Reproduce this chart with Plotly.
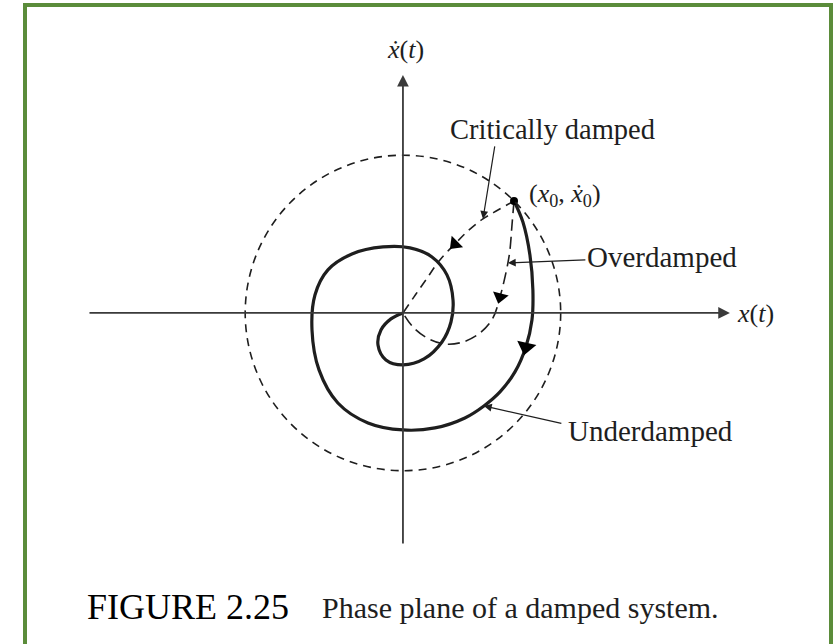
import math
import plotly.graph_objects as go

# Phase plane of a damped oscillator: state trajectories in (x, x_dot),
# expressed in units of the initial-energy radius.

# Initial condition (x0, x_dot0)
x0 = 0.712
v0 = 0.718

# Underdamped trajectory: spirals in clockwise around the origin
under_x = [0.712, 0.769, 0.814, 0.833, 0.827, 0.788, 0.718, 0.622, 0.519, 0.397,
           0.205, 0.000, -0.224, -0.417, -0.538, -0.583, -0.564, -0.481, -0.327,
           -0.128, 0.045, 0.186, 0.282, 0.321, 0.308, 0.250, 0.135, 0.000,
           -0.109, -0.160, -0.141, -0.077, 0.000]
under_v = [0.718, 0.583, 0.372, 0.147, -0.045, -0.218, -0.378, -0.506, -0.596, -0.673,
           -0.737, -0.750, -0.705, -0.577, -0.365, -0.109, 0.115, 0.276, 0.378,
           0.423, 0.417, 0.359, 0.244, 0.083, -0.058, -0.186, -0.295, -0.333,
           -0.301, -0.205, -0.109, -0.038, 0.000]

# Critically damped trajectory: heads almost straight to the origin
crit_x = [0.712, 0.609, 0.513, 0.417, 0.333, 0.237, 0.147, 0.071, 0.000]
crit_v = [0.718, 0.660, 0.603, 0.526, 0.442, 0.340, 0.212, 0.103, 0.000]

# Overdamped trajectory: drops down, then creeps back to the origin
over_x = [0.712, 0.699, 0.686, 0.673, 0.647, 0.622, 0.577, 0.494, 0.385, 0.269,
          0.154, 0.064, 0.000]
over_v = [0.718, 0.564, 0.404, 0.321, 0.199, 0.103, -0.032, -0.128, -0.186, -0.199,
          -0.160, -0.090, 0.000]

# Which point of each trajectory carries a direction arrow / label pointer
under_arrow_i, under_label_i = 5, 8
crit_arrow_i, crit_label_i = 4, 2
over_arrow_i, over_label_i = 5, 3

INK = "#1e1e1e"
AXIS = "#3a3a3a"
SERIF = "Liberation Serif, Times New Roman, serif"

fig = go.Figure()

# Constant-energy reference circle through the initial condition
r0 = (x0 ** 2 + v0 ** 2) ** 0.5
fig.add_shape(type="circle", xref="x", yref="y", x0=-r0, y0=-r0, x1=r0, y1=r0,
              line=dict(color=INK, width=1.6, dash="8px,6px"))

fig.add_trace(go.Scatter(x=crit_x, y=crit_v, mode="lines",
                         line=dict(color=INK, width=1.6, dash="9px,6px", shape="spline"),
                         hoverinfo="skip"))
fig.add_trace(go.Scatter(x=over_x, y=over_v, mode="lines",
                         line=dict(color=INK, width=1.6, dash="12px,6px", shape="spline"),
                         hoverinfo="skip"))
fig.add_trace(go.Scatter(x=under_x, y=under_v, mode="lines",
                         line=dict(color=INK, width=3.2, shape="spline"),
                         hoverinfo="skip"))
fig.add_trace(go.Scatter(x=[x0], y=[v0], mode="markers",
                         marker=dict(color="#000", size=8), hoverinfo="skip"))


def heading(xs, ys, i):
    # marker rotation (deg, clockwise from up) following the path into point i
    dx = xs[i] - xs[i - 1]
    dy = ys[i] - ys[i - 1]
    return math.degrees(math.atan2(dx, dy))


# Direction-of-motion arrowheads on each trajectory
arrow_pts = [(under_x, under_v, under_arrow_i, 17),
             (crit_x, crit_v, crit_arrow_i, 14),
             (over_x, over_v, over_arrow_i, 14)]
fig.add_trace(go.Scatter(
    x=[xs[i] for xs, ys, i, s in arrow_pts],
    y=[ys[i] for xs, ys, i, s in arrow_pts],
    mode="markers",
    marker=dict(symbol="triangle-up", color="#000", opacity=1,
                size=[s for xs, ys, i, s in arrow_pts],
                angle=[heading(xs, ys, i) for xs, ys, i, s in arrow_pts],
                line=dict(width=0)),
    hoverinfo="skip"))

annotations = []

# Phase-plane axes with arrowheads
annotations.append(dict(x=2.096, y=0, ax=-2.019, ay=0, xref="x", yref="y",
                        axref="x", ayref="y", text="", showarrow=True,
                        arrowhead=2, arrowsize=1.3, arrowwidth=1.8,
                        arrowcolor=AXIS, standoff=0, startstandoff=0))
annotations.append(dict(x=0, y=1.526, ax=0, ay=-1.487, xref="x", yref="y",
                        axref="x", ayref="y", text="", showarrow=True,
                        arrowhead=2, arrowsize=1.3, arrowwidth=1.8,
                        arrowcolor=AXIS, standoff=0, startstandoff=0))


def pointer(tail_x, tail_y, xs, ys, i):
    return dict(x=xs[i], y=ys[i], ax=tail_x, ay=tail_y, xref="x", yref="y",
                axref="x", ayref="y", text="", showarrow=True,
                arrowhead=2, arrowsize=1.3, arrowwidth=1.2,
                arrowcolor=INK, standoff=0, startstandoff=0)


annotations.append(pointer(0.590, 1.077, crit_x, crit_v, crit_label_i))
annotations.append(pointer(1.179, 0.340, over_x, over_v, over_label_i))
annotations.append(pointer(1.025, -0.710, under_x, under_v, under_label_i))


def label(x, y, text, size=28, xanchor="left", color=INK):
    return dict(x=x, y=y, xref="x", yref="y", text=text, showarrow=False,
                xanchor=xanchor, yanchor="middle",
                font=dict(family=SERIF, size=size, color=color))


annotations += [
    label(0.019, 1.690, "<i>ẋ</i>(<i>t</i>)", size=26, xanchor="center"),
    label(2.128, -0.006, "<i>x</i>(<i>t</i>)", size=26),
    label(0.288, 1.179, "Critically damped", size=28.5),
    label(0.795, 0.756, "(<i>x</i><sub>0</sub>, <i>ẋ</i><sub>0</sub>)", size=26),
    label(1.170, 0.359, "Overdamped", size=29),
    label(1.045, -0.756, "Underdamped", size=29),
    label(-2.038, -1.885, "FIGURE 2.25", size=36, color="#000"),
    label(-0.532, -1.885, "Phase plane of a damped system.", size=30),
]

# Green frame around the figure
fig.add_shape(type="rect", xref="paper", yref="paper",
              x0=25 / 836, x1=831 / 836, y0=-0.02, y1=1 - 5 / 644,
              line=dict(color="#5b8c3a", width=4))

fig.update_layout(
    width=836, height=644,
    margin=dict(l=0, r=0, t=0, b=0),
    paper_bgcolor="white", plot_bgcolor="white",
    showlegend=False,
    annotations=annotations,
    xaxis=dict(range=[-2.583, 2.776], visible=False, fixedrange=True),
    yaxis=dict(range=[-2.122, 2.006], visible=False, fixedrange=True),
)

fig.write_html("out.html", config={"displayModeBar": False})
